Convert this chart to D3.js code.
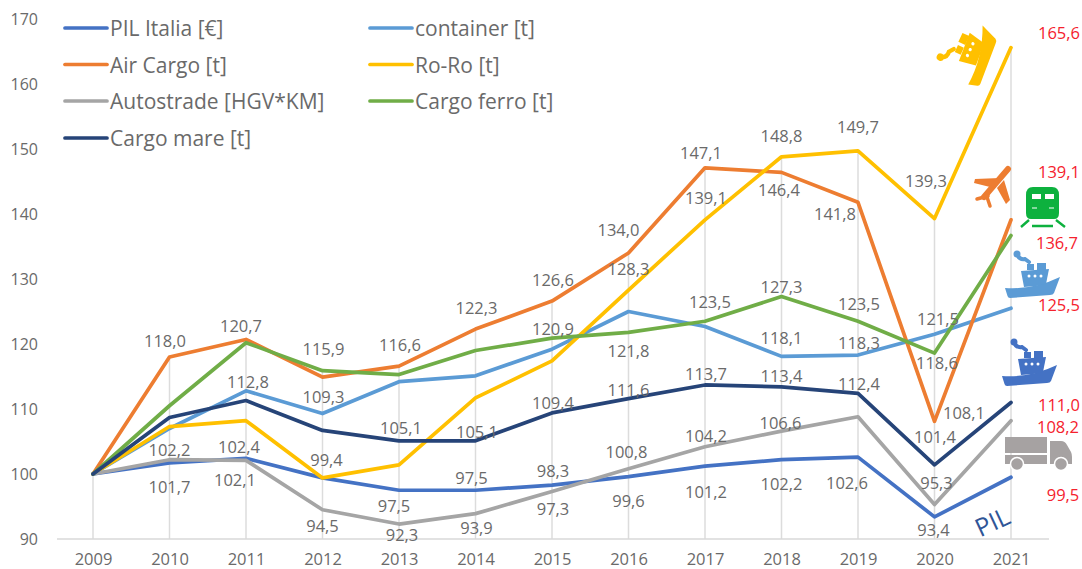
<!DOCTYPE html>
<html><head><meta charset="utf-8">
<script src="https://cdn.jsdelivr.net/npm/d3@7"></script>
<style>
html,body{margin:0;padding:0;background:#fff}
svg{display:block}
text{font-family:"Open Sans",sans-serif}
</style></head><body>
<svg id="c" width="1082" height="569"></svg>
<script>
const years=[2009,2010,2011,2012,2013,2014,2015,2016,2017,2018,2019,2020,2021];
const yTicks=[90,100,110,120,130,140,150,160,170];
const pil=[100,101.7,102.4,99.4,97.5,97.5,98.3,99.6,101.2,102.2,102.6,93.4,99.5];
const container=[100,107,112.8,109.3,114.2,115.1,119.2,125,122.7,118.1,118.3,121.5,125.5];
const air=[100,118,120.7,114.9,116.6,122.3,126.6,134,147.1,146.4,141.8,108.1,139.1];
const roro=[100,107.3,108.2,99.4,101.4,111.7,117.4,128.3,139.1,148.8,149.7,139.3,165.6];
const autostrade=[100,102.2,102.1,94.5,92.3,93.9,97.3,100.8,104.2,106.6,108.8,95.3,108.2];
const ferro=[100,110.5,120.2,115.9,115.3,119,120.9,121.8,123.5,127.3,123.5,118.6,136.7];
const mare=[100,108.7,111.3,106.7,105.1,105.1,109.4,111.6,113.7,113.4,112.4,101.4,111];
const seriesNames=["PIL Italia [€]","container [t]","Air Cargo [t]","Ro-Ro [t]","Autostrade [HGV*KM]","Cargo ferro [t]","Cargo mare [t]"];
const seriesValues=[pil,container,air,roro,autostrade,ferro,mare];
const seriesColors=["#4472C4","#5B9BD5","#ED7D31","#FFC000","#A5A5A5","#70AD47","#264478"];

// label placement: [point index, dx, dy] relative to the data point
const labelPlacement=[
 [[1,0,24],[2,-7,-12],[3,4,-18],[4,-5,15],[5,-4,-13],[6,1,-15],[7,0,24],[8,1,25],[9,0,24],[10,-11,25],[11,-1,13],[12,52,17]],
 [[2,2,-9],[3,1,-17],[9,0,-19],[10,1,-13],[11,3.5,-16],[12,48,-4]],
 [[1,-4.5,-17],[2,-5,-14],[4,1,-22],[5,1,-22],[6,1,-22],[7,-10,-24],[8,-4,-15],[9,-2.5,17],[10,-23,11],[11,29.5,-9],[12,48,-48]],
 [[7,0,-22],[8,1,-22],[9,0,-21],[10,0,-24],[11,-8.5,-38],[12,48,-15]],
 [[1,0,-10],[2,-11,19],[3,0,16],[4,3,10],[5,1,14],[6,1,17],[7,-2,-17],[8,1,-11],[9,-1,-9],[11,2,-22],[12,47,6]],
 [[3,1,-22],[6,1,-10],[7,0,18],[8,5,-20],[9,0,-10],[10,1,-18],[11,2.5,9],[12,46,7]],
 [[4,2,-13],[5,1.5,-9],[6,1,-10],[7,0,-9],[8,1,-11],[9,0,-11],[10,1,-10],[11,0.5,-28],[12,48,1.5]]
];

const svg=d3.select("#c");
const x=d3.scalePoint().domain(years).range([93,1011]);
const y=d3.scaleLinear().domain([90,170]).range([539,19]);
const grey="#6a6a6a";

// drop lines
svg.append("g").selectAll("line").data(years).join("line")
 .attr("x1",d=>x(d)).attr("x2",d=>x(d))
 .attr("y1",(d,i)=>y(d3.max(seriesValues,s=>s[i]))).attr("y2",y(90))
 .attr("stroke","#dcdcdc").attr("stroke-width",1.5);

// axes
const ax=svg.append("g").attr("transform",`translate(0,${y(90)})`)
 .call(d3.axisBottom(x).tickSize(0).tickPadding(14));
ax.select(".domain").remove();
ax.append("line").attr("x1",57).attr("x2",1049).attr("stroke","#d9d9d9").attr("stroke-width",1.5);
ax.selectAll("text").attr("font-size",16.5).attr("fill",grey).style("font-family",'"Open Sans",sans-serif');
const ay=svg.append("g").attr("transform","translate(38,0)")
 .call(d3.axisLeft(y).tickValues(yTicks).tickSize(0).tickPadding(0));
ay.select(".domain").remove();
ay.selectAll("text").attr("font-size",16).attr("fill",grey).style("font-family",'"Open Sans",sans-serif');

// lines
const line=d3.line().x((d,i)=>x(years[i])).y(d=>y(d));
svg.append("g").selectAll("path").data(seriesValues).join("path")
 .attr("d",line).attr("fill","none")
 .attr("stroke",(d,i)=>seriesColors[i]).attr("stroke-width",3.7)
 .attr("stroke-linejoin","round").attr("stroke-linecap","round");

// data labels
const fmt=v=>d3.format(".1f")(v).replace(".",",");
const lg=svg.append("g").attr("text-anchor","middle").attr("font-size",16.5);
seriesValues.forEach((s,k)=>{
 lg.selectAll(null).data(labelPlacement[k]).join("text")
  .attr("x",p=>x(years[p[0]])+p[1]).attr("y",p=>y(s[p[0]])+p[2])
  .attr("dominant-baseline","central")
  .attr("fill",p=>p[0]===12?"#F5222D":grey)
  .text(p=>fmt(s[p[0]]));
});

// legend
const legendCols=[65,370], legendRows=[28,64.5,101,138];
const leg=svg.append("g").selectAll("g").data(seriesNames).join("g")
 .attr("transform",(d,i)=>`translate(${i===6?legendCols[0]:legendCols[i%2]},${legendRows[Math.floor(i/2)]})`);
leg.append("line").attr("x1",0).attr("x2",42).attr("stroke",(d,i)=>seriesColors[i]).attr("stroke-width",3.7).attr("stroke-linecap","round");
leg.append("text").attr("x",45).attr("dominant-baseline","central").attr("font-size",21).attr("fill",grey).text(d=>d);

// pictograms
function ship(g,col){
 g.append("path").attr("fill",col).attr("d","M0,36 Q28,38 55,25 L49,41 Q48,43 45,43 L5,46 Q3,46 2.5,44 Z");
 g.append("path").attr("fill",col).attr("d","M16,19 L44,17 L41,32 Q30,35 19,35 Z");
 g.append("path").attr("fill",col).attr("d","M22,12 H29 V18 H22 Z M32,11 H41 V18 H32 Z");
 g.append("path").attr("fill","none").attr("stroke",col).attr("stroke-width",4).attr("stroke-linecap","round").attr("d","M12,2 Q14,8 20,7 L24,10");
 g.append("circle").attr("cx",12).attr("cy",2).attr("r",3.5).attr("fill",col);
 g.selectAll(null).data([24,30,36]).join("circle").attr("cx",d=>d).attr("cy",24).attr("r",1.5).attr("fill","#fff");
}
ship(svg.append("g").attr("transform","translate(933,68) rotate(-65) scale(1.08)"),"#FFC000");
ship(svg.append("g").attr("transform","translate(1005,252)"),"#5B9BD5");
ship(svg.append("g").attr("transform","translate(1002,340)"),"#4472C4");

// plane
const pl=svg.append("g").attr("transform","translate(900,0)").attr("stroke","#ED7D31").attr("stroke-linecap","round").attr("fill","none");
pl.append("path").attr("stroke-width",6).attr("d","M108,169 L84,197");
pl.append("path").attr("fill","#ED7D31").attr("stroke","none").attr("d","M100,178 L75,179 L74,183 L94,188 Z M104,180 L97,188 L106,204 L110,200 Z");
pl.append("path").attr("stroke-width",3.5).attr("d","M88,196 L77,199 M87,197 L90,206");

// train
const tr=svg.append("g").attr("transform","translate(900,0)");
tr.append("path").attr("fill","#0DB13E").attr("d","M133,187 H152 Q159,187 159,195 V213 Q159,219 154,219 H131 Q126,219 126,213 V195 Q126,187 133,187 Z");
tr.append("path").attr("fill","#fff").attr("d","M132,194 H141 V199 H132 Z M145,194 H154 V199 H145 Z M132,207.5 H137 V208.5 H132 Z M149,207.5 H154 V208.5 H149 Z");
tr.append("path").attr("stroke","#0DB13E").attr("stroke-width",2.4).attr("fill","none").attr("d","M129,220 L121,227 M156,220 L165,227 M132,226 H153");

// truck
const tk=svg.append("g").attr("transform","translate(900,290)").attr("fill","#A6A2A2");
tk.append("path").attr("d","M105,147 H147 V163 H105 Z M105,165 H147 V174 H105 Z M150,151 H161 Q165,151 167,155 L171,162 Q172,164 172,167 V174 H150 Z");
tk.selectAll(null).data([117,161]).join("circle").attr("cx",d=>d).attr("cy",174).attr("r",6.5).attr("stroke","#fff").attr("stroke-width",1.5);

// PIL tag
svg.append("text").attr("transform","translate(992,521) rotate(-25)").attr("text-anchor","middle").attr("dominant-baseline","central")
 .attr("font-size",25).attr("fill","#2F5597").text("PIL");
</script>
</body></html>
